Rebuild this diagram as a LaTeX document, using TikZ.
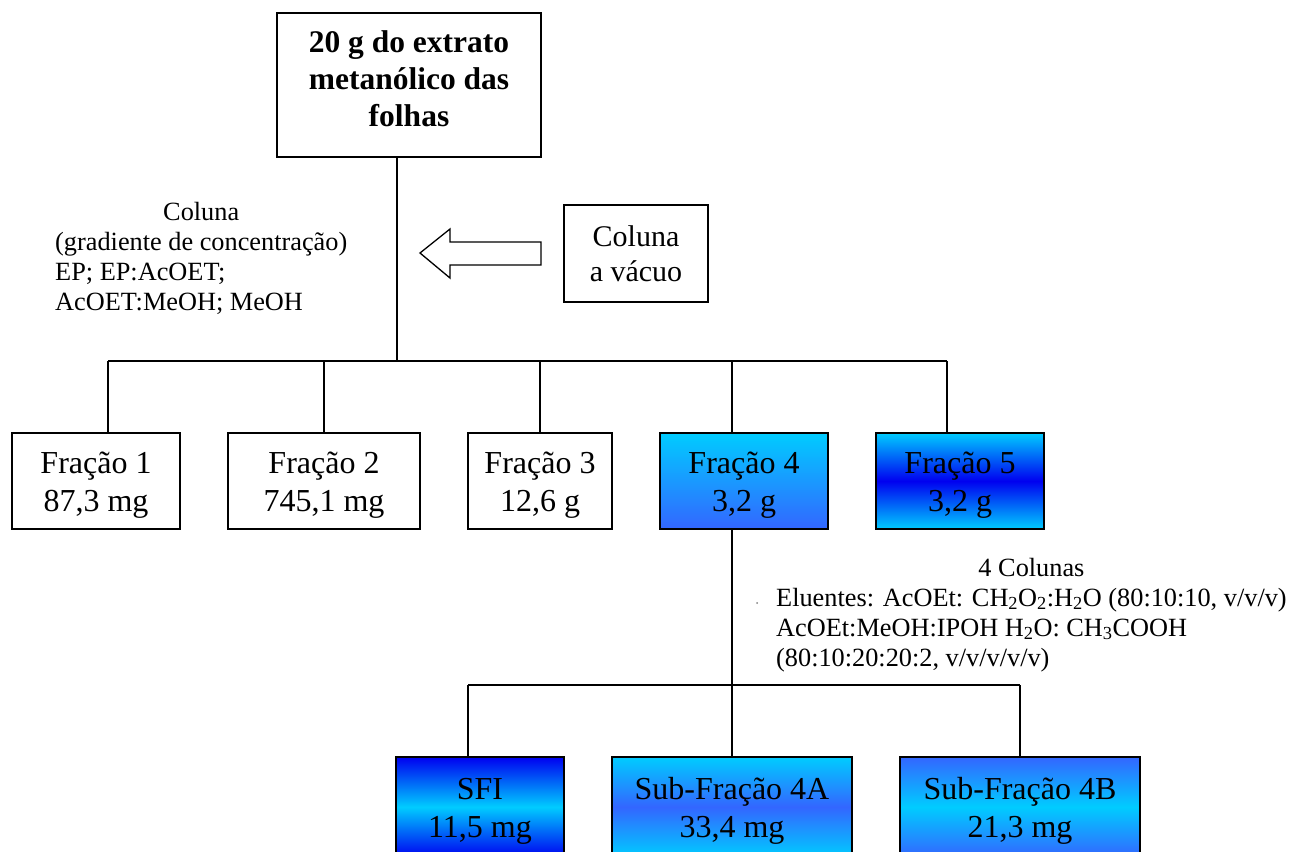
\documentclass[tikz,border=0pt]{standalone}
\usepackage{fontspec}
\setmainfont{Liberation Serif}
\definecolor{skyc}{HTML}{00CCFF}
\definecolor{midb}{HTML}{3366FF}
\definecolor{deepb}{HTML}{0000F0}
% two-line box label, set a little below the geometric centre
\newcommand{\boxlines}[2]{\raisebox{-4pt}[\height][\depth]{%
  \begin{tabular}{@{}c@{}}#1\\#2\end{tabular}}}
\begin{document}
\begin{tikzpicture}[x=1pt,y=-1pt,
  box/.style={draw=black,line width=2pt,inner sep=0pt,align=center,
    font=\fontsize{32}{38}\selectfont},
  link/.style={line width=2pt},
  note/.style={inner sep=0pt,font=\fontsize{26.3}{30}\selectfont}]
\useasboundingbox (0,0) rectangle (1289,851);

% source extract
\node[box,minimum width=264pt,minimum height=144pt,
  font=\fontsize{31.5}{37}\selectfont\bfseries] (src) at (409,85)
  {\raisebox{3pt}[\height][\depth]{\begin{tabular}{@{}c@{}}
   20 g do extrato\\metanólico das\\folhas\end{tabular}}};

% fractions from the vacuum column
\node[box,minimum width=168pt,minimum height=96pt] (f1) at (96,481) {\boxlines{Fração 1}{87,3 mg}};
\node[box,minimum width=192pt,minimum height=96pt] (f2) at (324,481) {\boxlines{Fração 2}{745,1 mg}};
\node[box,minimum width=144pt,minimum height=96pt] (f3) at (540,481) {\boxlines{Fração 3}{12,6 g}};
\node[box,minimum width=168pt,minimum height=96pt,
  top color=skyc,bottom color=midb] (f4) at (744,481) {\boxlines{Fração 4}{3,2 g}};
\node[box,minimum width=168pt,minimum height=96pt,
  top color=skyc,bottom color=skyc,middle color=deepb] (f5) at (960,481) {\boxlines{Fração 5}{3,2 g}};

% sub-fractions of fraction 4 (their lower edges run off the page)
\node[box,minimum width=168pt,minimum height=100pt,
  top color=deepb,bottom color=deepb,middle color=skyc] (s1) at (480,807) {\boxlines{SFI}{11,5 mg}};
\node[box,minimum width=240pt,minimum height=100pt,
  top color=skyc,bottom color=skyc,middle color=midb] (s2) at (732,807) {\boxlines{Sub-Fração 4A}{33,4 mg}};
\node[box,minimum width=240pt,minimum height=100pt,
  top color=midb,bottom color=midb,middle color=skyc] (s3) at (1020,807) {\boxlines{Sub-Fração 4B}{21,3 mg}};

% vacuum column and its hollow arrow
\node[box,line width=1.5pt,font=\fontsize{30}{35}\selectfont,
  minimum width=144pt,minimum height=97pt] (vac) at (636,253.5) {Coluna\\a vácuo};
\coordinate (tip) at (420,253);
\draw[line width=1.3pt,line join=miter] (tip) -- (450,229) -- (450,242) -- (541,242)
  -- (541,265) -- (450,265) -- (450,278) -- cycle;

% eluent notes
\node[note,anchor=north west] (n1) at (55,199) {%
  \begin{tabular}{@{}l@{}}
  \multicolumn{1}{@{}c@{}}{Coluna}\\
  (gradiente de concentração)\\
  EP; EP:AcOET;\\
  AcOET:MeOH; MeOH
  \end{tabular}};
\node[note,anchor=north west] (n2) at (776,555) {%
  \begin{tabular}{@{}l@{}}
  \multicolumn{1}{@{}c@{}}{4 Colunas}\\
  Eluentes: AcOEt: CH\textsubscript{2}O\textsubscript{2}:H\textsubscript{2}O (80:10:10, v/v/v)\\
  AcOEt:MeOH:IPOH H\textsubscript{2}O: CH\textsubscript{3}COOH\\
  (80:10:20:20:2, v/v/v/v/v)
  \end{tabular}};
\fill[gray] (757,603) circle (1pt);

% first splitting bus
\coordinate (b1) at (397,361);
\coordinate (j1) at (108,361);
\coordinate (j2) at (324,361);
\coordinate (j3) at (540,361);
\coordinate (j4) at (732,361);
\coordinate (j5) at (947,361);
\draw[link] (b1 |- src.south) -- (b1);
\draw[link] (j1) -- (j5);
\draw[link] (j1) -- (j1 |- f1.north);
\draw[link] (j2) -- (j2 |- f2.north);
\draw[link] (j3) -- (j3 |- f3.north);
\draw[link] (j4) -- (j4 |- f4.north);
\draw[link] (j5) -- (j5 |- f5.north);

% second splitting bus
\coordinate (k1) at (468,685);
\coordinate (k2) at (732,685);
\coordinate (k3) at (1020,685);
\draw[link] (k2 |- f4.south) -- (k2);
\draw[link] (k1) -- (k3);
\draw[link] (k1) -- (k1 |- s1.north);
\draw[link] (k2) -- (k2 |- s2.north);
\draw[link] (k3) -- (k3 |- s3.north);
\end{tikzpicture}
\end{document}
